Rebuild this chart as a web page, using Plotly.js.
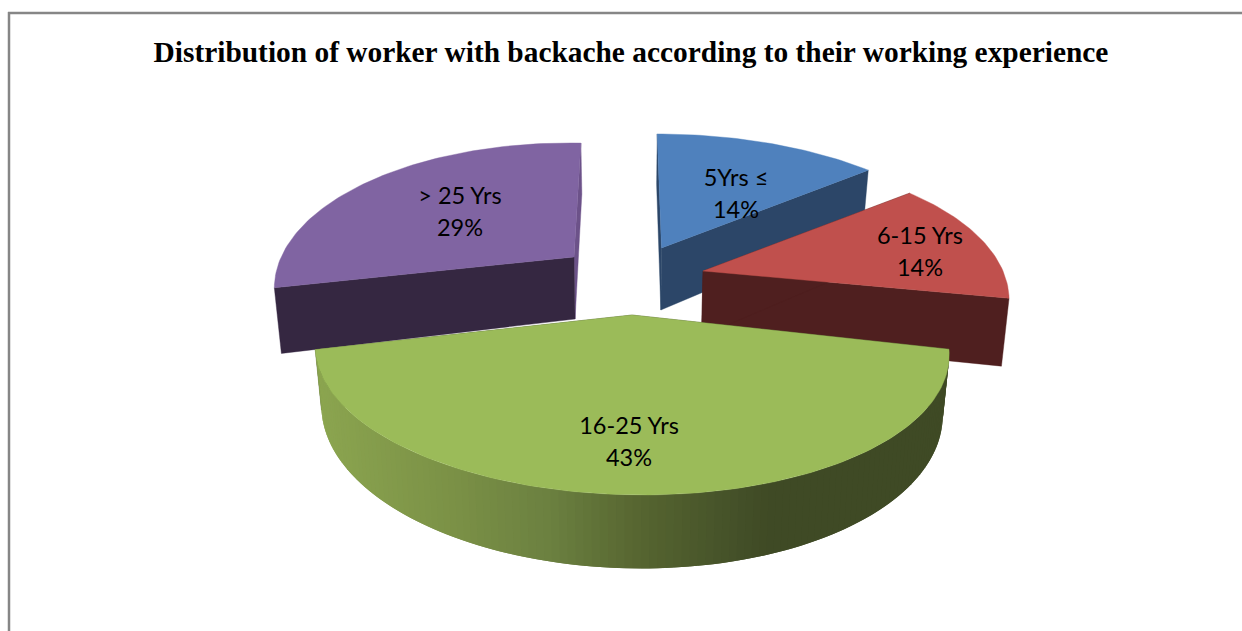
<!DOCTYPE html>
<html>
<head>
<meta charset="utf-8">
<title>Distribution of worker with backache</title>
<script src="https://cdn.plot.ly/plotly-3.0.1.min.js"></script>
<style>html,body{margin:0;padding:0;background:#fff}#chart{width:1242px;height:631px}</style>
</head>
<body>
<div id="chart"></div>
<script>
// Share of workers with backache per experience band, clockwise from 12 o'clock
const categories = ['5Yrs ≤', '6-15 Yrs', '16-25 Yrs', '> 25 Yrs'];
const percents = [14, 14, 43, 29];

// Styling for each slice
const topColors = ['#4f81bd', '#c0504d', '#9bbb59', '#8064a2'];
const cutColors = ['#2c4668', '#4f1f1f', '#3f4a25', '#352741'];
const endColors = ['#2c4668', '#4f1f1f', '#3f4a25', '#6c5289'];

// Where each exploded slice sits on the page, in axis units
const apexX = [661.5, 703, 632, 574];
const apexY = [248, 271, 315, 257];
const radiusX = [311, 300, 309, 290];
const shear = [0, 0, 0.0142, 0.02];
const lean = [0, 0.14, 0, 0];
const flatten = [0, 0, 2.5, 0];
const thickness = [62, 65, 57, 62];
const labelX = [736, 920, 629, 460];
const labelY = [180, 238, 428, 198];
const labelGap = 32;

// Oblique projection of the pie plane
const radiusY = 139.6, depthK = 0.224, vanishX = 628, vanishPull = 0.7, baseShrink = 0.98;

// Rim shading on the big slice, by page x
const rimX = [310, 450, 550, 640, 720, 770, 960];
const rimRGB = [[140,166,80],[123,145,70],[107,128,64],[86,101,48],[71,84,42],[63,74,37],[63,74,37]];

function project(i, theta) {
  const X = Math.sin(theta), Y = Math.cos(theta), w = 1 + depthK * Y;
  const up = radiusY * Y / w;
  const dx = radiusX[i] * X / w + (apexX[i] - vanishX) * (1 / w - 1) * vanishPull + lean[i] * up;
  return {
    x: apexX[i] + dx,
    y: apexY[i] - up + shear[i] * dx + flatten[i] * X * X,
    w: w
  };
}
function lower(i, p) {
  return { x: vanishX + (p.x - vanishX) * baseShrink, y: p.y + thickness[i] / p.w };
}
function rimColor(x) {
  let k = 0;
  while (k < rimX.length - 2 && x > rimX[k + 1]) k++;
  const t = Math.min(1, Math.max(0, (x - rimX[k]) / (rimX[k + 1] - rimX[k])));
  const c = rimRGB[k].map((v, n) => Math.round(v + (rimRGB[k + 1][n] - v) * t));
  return `rgb(${c[0]},${c[1]},${c[2]})`;
}
function poly(pts, color, edge) {
  const xs = pts.map(p => p.x), ys = pts.map(p => p.y);
  xs.push(xs[0]); ys.push(ys[0]);
  return { type: 'scatter', mode: 'lines', x: xs, y: ys, fill: 'toself', fillcolor: color,
           line: { color: color, width: edge }, hoverinfo: 'skip', showlegend: false };
}

const total = percents.reduce((a, b) => a + b, 0);
const starts = [];
percents.reduce((sum, v, i) => { starts[i] = sum; return sum + v; }, 0);

function sliceTraces(i) {
  const a0 = starts[i] / total * 2 * Math.PI;
  const a1 = (starts[i] + percents[i]) / total * 2 * Math.PI;
  const steps = Math.max(24, Math.round(percents[i] * 3));
  const arc = [];
  for (let s = 0; s <= steps; s++) arc.push(project(i, a0 + (a1 - a0) * s / steps));
  const apex = { x: apexX[i], y: apexY[i], w: 1 };
  const out = [];
  const first = arc[0], last = arc[arc.length - 1];
  // radial cut faces
  out.push(poly([apex, last, lower(i, last), lower(i, apex)], endColors[i], 0.4));
  out.push(poly([apex, first, lower(i, first), lower(i, apex)], cutColors[i], 0.4));
  // curved rim, only the front-facing slice shows it; each strip runs under the next
  if (i === 2) {
    for (let s = 0; s < arc.length - 1; s++) {
      const far = arc[Math.min(s + 2, arc.length - 1)];
      const c = rimColor((arc[s].x + arc[s + 1].x) / 2);
      out.push(poly([arc[s], arc[s + 1], far, lower(i, far), lower(i, arc[s + 1]), lower(i, arc[s])], c, 0));
    }
  }
  out.push(poly([apex].concat(arc), topColors[i], 0.4));
  return out;
}

// Painter's order: back slices first
const traces = [];
[0, 3, 1, 2].forEach(i => sliceTraces(i).forEach(t => traces.push(t)));

traces.push({
  type: 'scatter', mode: 'text',
  x: labelX.concat(labelX),
  y: labelY.concat(labelY.map(v => v + labelGap)),
  text: categories.concat(percents.map(v => v + '%')),
  textposition: 'middle center',
  textfont: { family: 'Lato, Carlito, sans-serif', size: 23.5, color: '#000' },
  hoverinfo: 'skip', showlegend: false
});

const layout = {
  width: 1242, height: 631,
  margin: { l: 0, r: 0, t: 0, b: 0 },
  paper_bgcolor: '#fff', plot_bgcolor: '#fff',
  showlegend: false,
  title: {
    text: '<b>Distribution of worker with backache according to their working experience</b>',
    x: 631 / 1242, xanchor: 'center', xref: 'paper',
    y: 1 - 52 / 631, yanchor: 'middle', yref: 'container',
    font: { family: '"Liberation Serif", serif', size: 29.4, color: '#000' }
  },
  xaxis: { range: [0, 1242], visible: false, fixedrange: true },
  yaxis: { range: [631, 0], visible: false, fixedrange: true },
  shapes: [
    { type: 'line', xref: 'x', yref: 'y', x0: 8, x1: 1242, y0: 13, y1: 13, line: { color: '#868686', width: 2.5 } },
    { type: 'line', xref: 'x', yref: 'y', x0: 9, x1: 9, y0: 12, y1: 631, line: { color: '#868686', width: 2.5 } }
  ]
};

Plotly.newPlot('chart', traces, layout, { staticPlot: true, displayModeBar: false });
</script>
</body>
</html>
